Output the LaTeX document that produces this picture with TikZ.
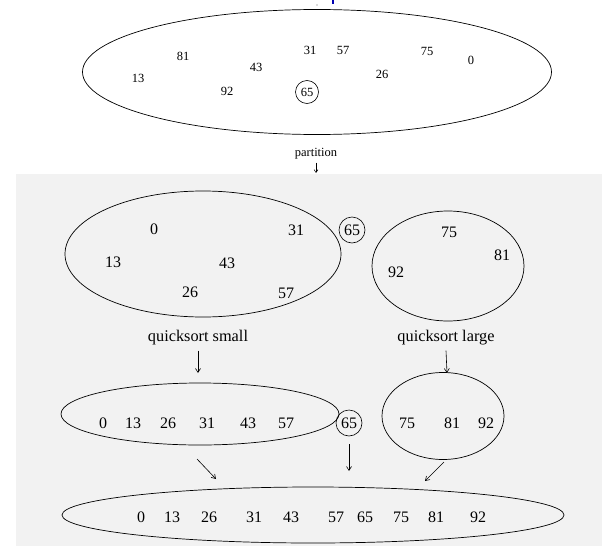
\documentclass[tikz,border=0pt]{standalone}
\usepackage{fontspec}
\setmainfont{Liberation Serif}
\usetikzlibrary{shapes.geometric,arrows.meta}
\begin{document}
\begin{tikzpicture}[x=1pt,y=-1pt,
  set/.style={draw, ellipse, line width=0.7pt, inner sep=0pt},
  numA/.style={font=\fontsize{12.5}{14}\selectfont, inner sep=0pt},
  numB/.style={font=\fontsize{16}{18}\selectfont, inner sep=0pt},
  pivotA/.style={draw, circle, line width=0.6pt, inner sep=0pt, minimum size=23pt, font=\fontsize{12.5}{14}\selectfont},
  pivotB/.style={draw, circle, line width=0.6pt, inner sep=0pt, minimum size=26pt, font=\fontsize{16}{18}\selectfont},
  labA/.style={font=\fontsize{12.5}{14}\selectfont, inner sep=0pt},
  labB/.style={font=\fontsize{16.3}{18}\selectfont, inner sep=0pt},
  arr/.style={-{Straight Barb[length=4pt,width=5pt]}, line width=0.6pt},
  arrsmall/.style={-{Straight Barb[length=3pt,width=4pt]}, line width=0.5pt}]
\useasboundingbox (0,0) rectangle (602,546);
\fill[white] (0,0) rectangle (602,546);
\fill[black!5] (16,174) rectangle (602,546);
% fragment of a title above the picture
\fill[blue!70!black] (331.8,0) rectangle (334,3.5);
\fill[black!60] (317,5) circle (0.7);

% top set
\node[set, minimum width=469pt, minimum height=125pt] (top) at (317,72) {};
\node[numA] (t81) at (183,56) {81};
\node[numA] (t13) at (138,78) {13};
\node[numA] (t92) at (227,91) {92};
\node[numA] (t43) at (256,67) {43};
\node[numA] (t31) at (310,50) {31};
\node[numA] (t57) at (343,50) {57};
\node[pivotA] (t65) at (307,92) {65};
\node[numA] (t26) at (382,74) {26};
\node[numA] (t75) at (427,51) {75};
\node[numA] (t0) at (471,60) {0};

% partition
\node[labA] (part) at (316,154) {partition};
\coordinate (partend) at (316,173);
\path (part.south) ++(0,3) coordinate (partstart);
\draw[arrsmall] (partstart) -- (partend);

% middle row
\node[set, minimum width=276pt, minimum height=126pt] (small) at (203,254) {};
\node[numB] (m0) at (154,229) {0};
\node[numB] (m13) at (113,262) {13};
\node[numB] (m43) at (227,263) {43};
\node[numB] (m31) at (296,230) {31};
\node[numB] (m26) at (190,292) {26};
\node[numB] (m57) at (286,293) {57};
\node[pivotB] (m65) at (352,230) {65};
\node[set, minimum width=152pt, minimum height=110pt] (large) at (448,266) {};
\node[numB] (m75) at (449,232) {75};
\node[numB] (m81) at (502,255) {81};
\node[numB] (m92) at (396,272) {92};

% labels
\node[labB] (qs) at (198,338) {quicksort small};
\node[labB] (ql) at (446,338) {quicksort large};
\coordinate (qsend) at (198,373);
\coordinate (qlend) at (447,373);
\path (qs.south) ++(0,5) coordinate (qsstart);
\path (ql.south) ++(0,5) coordinate (qlstart);
\draw[arr] (qsstart) -- (qsend);
\draw[arr] (qlstart) -- (qlend);

% third row
\node[set, minimum width=278pt, minimum height=62pt] (ssorted) at (200,414) {};
\node[numB] (s0) at (103,423) {0};
\node[numB] (s13) at (133,423) {13};
\node[numB] (s26) at (168,423) {26};
\node[numB] (s31) at (207,423) {31};
\node[numB] (s43) at (248,423) {43};
\node[numB] (s57) at (286,423) {57};
\node[pivotB] (s65) at (349,423) {65};
\node[set, minimum width=122pt, minimum height=87pt] (lsorted) at (443,416) {};
\node[numB] (s75) at (407,423) {75};
\node[numB] (s81) at (452,423) {81};
\node[numB] (s92) at (486,423) {92};

% arrows to result
\coordinate (a1s) at (197,459);
\coordinate (a1e) at (216,479);
\coordinate (a3s) at (444,462);
\coordinate (a3e) at (425,481);
\coordinate (a2e) at (349,471);
\path (s65.south) ++(0,8) coordinate (a2s);
\draw[arr] (a1s) -- (a1e);
\draw[arr] (a2s) -- (a2e);
\draw[arr] (a3s) -- (a3e);

% result
\node[set, minimum width=502pt, minimum height=56pt] (res) at (313,515) {};
\node[numB] (r0) at (141,517) {0};
\node[numB] (r13) at (172,517) {13};
\node[numB] (r26) at (209,517) {26};
\node[numB] (r31) at (254,517) {31};
\node[numB] (r43) at (291,517) {43};
\node[numB] (r57) at (336,517) {57};
\node[numB] (r65) at (365,517) {65};
\node[numB] (r75) at (401,517) {75};
\node[numB] (r81) at (436,517) {81};
\node[numB] (r92) at (478,517) {92};
\end{tikzpicture}
\end{document}
